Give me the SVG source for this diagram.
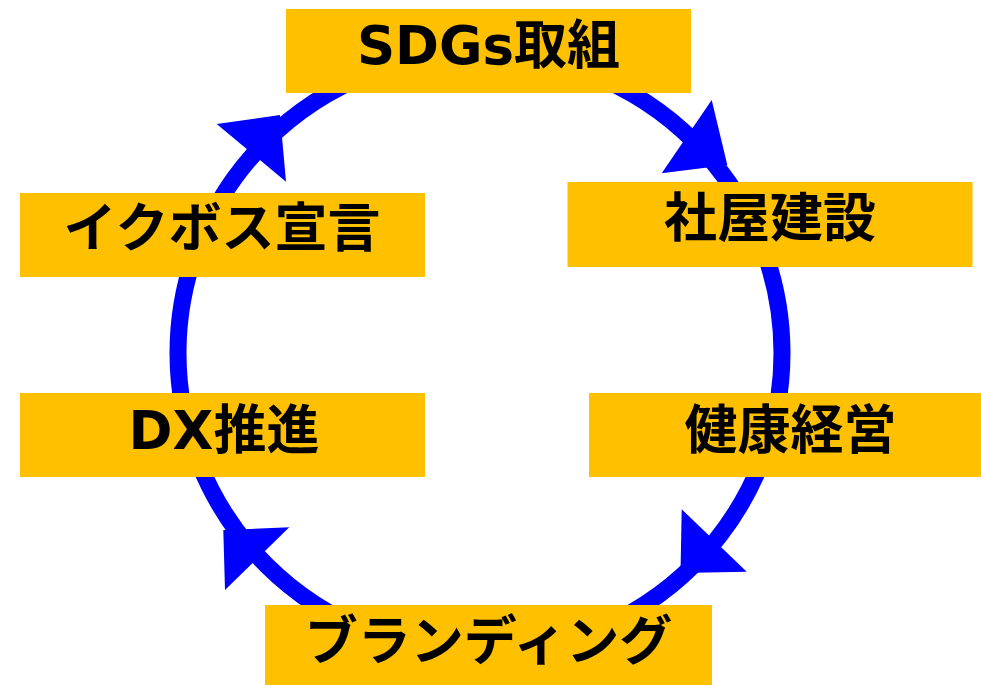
<svg xmlns="http://www.w3.org/2000/svg" width="981" height="685" viewBox="0 0 981 685">
<style>
.box{fill:#FFC000;}
.lbl{font-family:"DejaVu Sans","Noto Sans CJK JP",sans-serif;font-weight:bold;font-size:53px;fill:#000;text-anchor:middle;}
.ring{fill:none;stroke:#0000FF;stroke-width:17;}
.head{fill:#0000FF;}
</style>
<rect width="981" height="685" fill="#fff"/>
<g id="connectors">
<ellipse class="ring" cx="480" cy="353" rx="302" ry="300"/>
<polygon class="head" points="216.7,124 280,115 286,181.7"/>
<polygon class="head" points="711.7,100 727.3,165 661.7,173.3"/>
<polygon class="head" points="681.7,509.3 746.7,571.7 680.5,573"/>
<polygon class="head" points="289.3,527.3 223.3,530 225,590"/>
</g>
<g id="sdgs">
<rect class="box" x="286" y="9" width="405" height="84"/>
<text class="lbl" x="488.5" y="64">SDGs取組</text>
</g>
<g id="shaoku">
<rect class="box" x="567.5" y="182" width="405" height="85"/>
<text class="lbl" x="770" y="237">社屋建設</text>
</g>
<g id="kenko">
<rect class="box" x="589" y="393" width="405" height="84"/>
<text class="lbl" x="790.5" y="449">健康経営</text>
</g>
<g id="branding">
<rect class="box" x="265" y="605" width="447" height="84"/>
<text class="lbl" x="488.5" y="660">ブランディング</text>
</g>
<g id="dx">
<rect class="box" x="20" y="393" width="405" height="84"/>
<text class="lbl" x="224" y="449">DX推進</text>
</g>
<g id="ikubosu">
<rect class="box" x="20" y="193" width="405" height="84"/>
<text class="lbl" x="222" y="247">イクボス宣言</text>
</g>
</svg>
